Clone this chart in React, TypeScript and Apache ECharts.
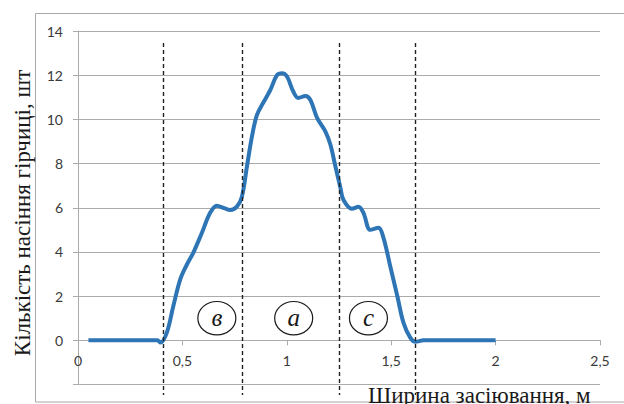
import React, { useEffect, useRef } from "react";
import * as echarts from "echarts";

// Ширина засіювання, м (x) and кількість насіння (y)
const widthM = [
  0.05, 0.3, 0.38, 0.395, 0.425, 0.456, 0.489, 0.521, 0.552, 0.593, 0.633, 0.665,
  0.7, 0.729, 0.761, 0.785, 0.809, 0.833, 0.857, 0.887, 0.921, 0.953, 0.977, 1.001,
  1.031, 1.055, 1.089, 1.113, 1.145, 1.185, 1.209, 1.233, 1.257, 1.271, 1.312, 1.343,
  1.367, 1.4, 1.439, 1.463, 1.496, 1.53, 1.559, 1.592, 1.616, 1.655, 2.0,
];
const seedCount = [
  0, 0, 0, -0.1, 0.34, 1.53, 2.74, 3.42, 3.96, 4.86, 5.77, 6.09,
  5.98, 5.9, 6.05, 6.5, 7.86, 9.22, 10.2, 10.75, 11.33, 12.0, 12.09, 11.94,
  11.26, 10.97, 11.06, 10.88, 10.07, 9.45, 8.85, 7.86, 6.9, 6.36, 5.95, 6.04,
  5.77, 5.0, 5.09, 4.64, 3.33, 1.97, 0.79, 0.11, -0.07, 0, 0,
];

// zone boundaries (dashed lines)
const dividerX = [0.406, 0.785, 1.248, 1.616];

// zone markers
const zoneX = [0.665, 1.033, 1.391];
const zoneLabel = ["в", "а", "с"];
const zoneY = 1.0;

const xTitle = "Ширина засіювання, м";
const yTitle = "Кількість насіння гірчиці, шт";

export default function App() {
  const ref = useRef<HTMLDivElement>(null);
  useEffect(() => {
    document.body.style.margin = "0";
    const chart = echarts.init(ref.current!, null, { renderer: "svg" });
    const grey = "#ABABAB";
    const labelFont = { fontFamily: "Lato", fontSize: 14, color: "#3a3a3a" };
    const top = 31;
    const bottom = 19.5;
    const yMin = -2;
    const yMax = 14;
    const unit = (404 - top - bottom) / (yMax - yMin);
    const zeroPx = top + yMax * unit;
    chart.setOption({
      animation: false,
      grid: [
        { left: 78, right: 24, top, bottom, outerBoundsMode: "none" },
        { left: 78, right: 24, top, bottom: 404 - zeroPx, outerBoundsMode: "none" },
      ],
      xAxis: [
        {
          type: "value",
          gridIndex: 0,
          min: 0,
          max: 2.5,
          interval: 0.5,
          axisLine: { show: false },
          axisTick: { show: false },
          axisLabel: { show: false },
          splitLine: { show: false },
        },
        {
          type: "value",
          gridIndex: 1,
          min: 0,
          max: 2.5,
          interval: 0.5,
          axisLine: { show: true, onZero: false, lineStyle: { color: grey, width: 1 } },
          axisTick: { show: true, length: 5, lineStyle: { color: grey } },
          axisLabel: {
            ...labelFont,
            margin: 13,
            formatter: (v: number) => String(v).replace(".", ","),
          },
          splitLine: { show: false },
        },
      ],
      yAxis: [
        {
          type: "value",
          gridIndex: 0,
          min: yMin,
          max: yMax,
          interval: 2,
          axisLine: { show: true, onZero: false, lineStyle: { color: grey, width: 1 } },
          axisTick: { show: true, length: 5, lineStyle: { color: grey } },
          axisLabel: {
            ...labelFont,
            margin: 15,
            formatter: (v: number) => (v < 0 ? "" : String(v)),
          },
          splitLine: { show: true, lineStyle: { color: grey, width: 1 } },
        },
        {
          type: "value",
          gridIndex: 1,
          min: 0,
          max: yMax,
          interval: 2,
          show: false,
        },
      ],
      graphic: [
        {
          type: "rect",
          z: 0,
          shape: { x: 35.5, y: 13.5, width: 620, height: 388.5 },
          style: { fill: "none", stroke: "#A8A8A8", lineWidth: 1 },
        },
        {
          type: "text",
          z: 100,
          x: 22,
          y: 213,
          rotation: Math.PI / 2,
          style: {
            text: yTitle,
            fontFamily: "Liberation Serif",
            fontSize: 23,
            fill: "#1a1a1a",
            align: "center",
            verticalAlign: "middle",
          },
        },
        {
          type: "text",
          z: 100,
          x: 368,
          y: 395,
          style: {
            text: xTitle,
            fontFamily: "Liberation Serif",
            fontSize: 23,
            fill: "#1a1a1a",
            align: "left",
            verticalAlign: "middle",
          },
        },
      ],
      series: [
        {
          type: "line",
          xAxisIndex: 0,
          yAxisIndex: 0,
          data: widthM.map((x, i) => [x, seedCount[i]]),
          smooth: 0.35,
          showSymbol: false,
          symbol: "none",
          lineStyle: { color: "#2E75B6", width: 4 },
          z: 3,
        },
        {
          type: "custom",
          xAxisIndex: 0,
          yAxisIndex: 0,
          clip: false,
          data: dividerX.map((x) => [x, 0]),
          renderItem: (params: any, api: any) => {
            const px = Math.round(api.coord([api.value(0), 0])[0]) + 0.5;
            return {
              type: "line",
              shape: { x1: px, y1: 43, x2: px, y2: 395 },
              style: { stroke: "#222", lineWidth: 1.4, lineDash: [4, 3] },
            };
          },
          z: 4,
        },
        {
          type: "custom",
          xAxisIndex: 0,
          yAxisIndex: 0,
          clip: false,
          data: zoneX.map((x, i) => [x, zoneY, i]),
          renderItem: (params: any, api: any) => {
            const c = api.coord([api.value(0), api.value(1)]);
            const label = zoneLabel[params.dataIndex];
            return {
              type: "group",
              children: [
                {
                  type: "ellipse",
                  shape: { cx: c[0], cy: c[1], rx: 19, ry: 16.7 },
                  style: { fill: "#fff", stroke: "#1a1a1a", lineWidth: 1.2 },
                },
                {
                  type: "text",
                  x: c[0],
                  y: c[1] - 1,
                  style: {
                    text: label,
                    fontFamily: "Liberation Serif",
                    fontStyle: "italic",
                    fontSize: 25,
                    fill: "#1a1a1a",
                    align: "center",
                    verticalAlign: "middle",
                  },
                },
              ],
            };
          },
          z: 5,
        },
      ],
    });
    return () => chart.dispose();
  }, []);
  return <div ref={ref} style={{ width: 624, height: 404 }} />;
}
